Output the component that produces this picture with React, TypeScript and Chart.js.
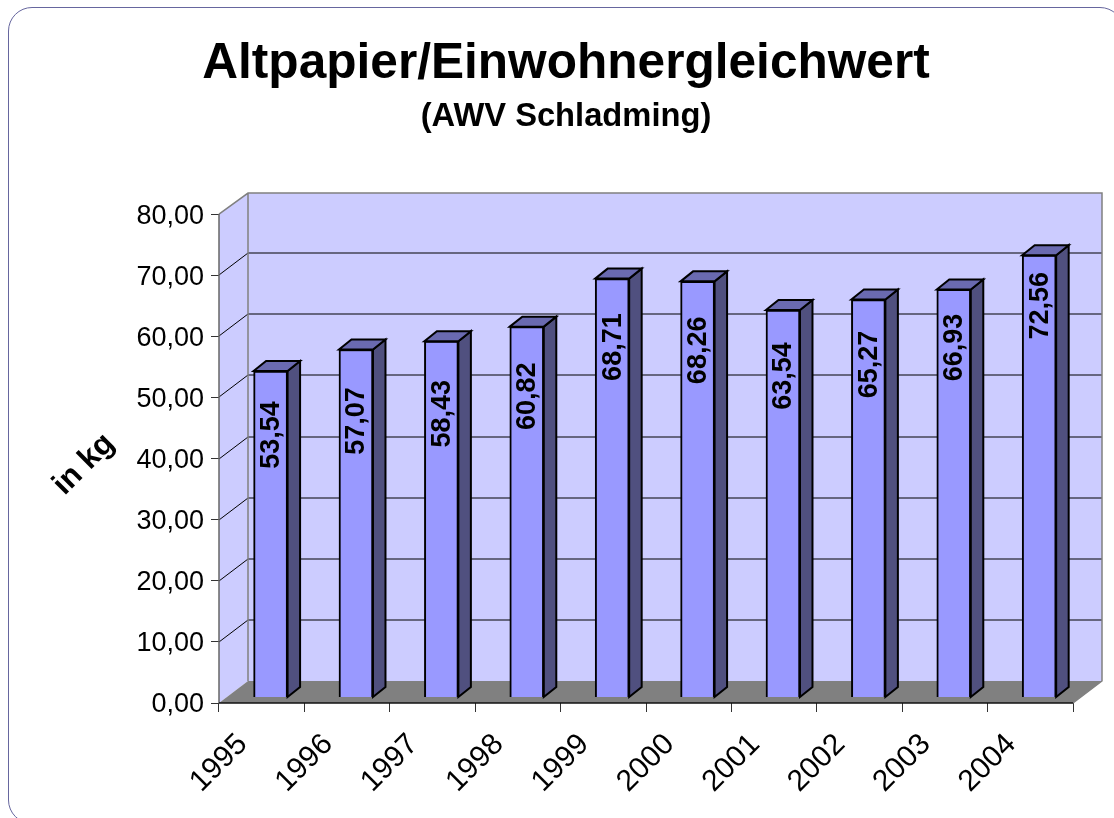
import React, { useEffect, useRef } from "react";
import { Chart, registerables } from "chart.js";

Chart.register(...registerables);

const years = ["1995", "1996", "1997", "1998", "1999", "2000", "2001", "2002", "2003", "2004"];
const values = [53.54, 57.07, 58.43, 60.82, 68.71, 68.26, 63.54, 65.27, 66.93, 72.56];
const titleText = "Altpapier/Einwohnergleichwert";
const subtitleText = "(AWV Schladming)";
const yAxisLabel = "in kg";

// how far each value label sits below the top of its bar
const labelDrop = [64, 71.5, 72.5, 69.5, 68.5, 69, 66, 65, 58, 50.5];

const FONT = "'Liberation Sans', Arial, sans-serif";
const fmt = (v: number) => v.toFixed(2).replace(".", ",");

const DEPTH_X = 29;
const DEPTH_Y = 22;
const BAR_DX = 12.5;
const BAR_DY = 10;

const wallPlugin = {
  id: "wall3d",
  beforeDatasetsDraw(chart: any) {
    const { ctx, chartArea: a, scales } = chart;
    const y = scales.y;
    const l = a.left, r = a.right, b = a.bottom, t = a.top;
    ctx.save();
    ctx.fillStyle = "#CCCCFF";
    ctx.fillRect(l + DEPTH_X, t - DEPTH_Y + 1, r - l, b - t);
    ctx.beginPath();
    ctx.moveTo(l, t); ctx.lineTo(l + DEPTH_X, t - DEPTH_Y + 1);
    ctx.lineTo(l + DEPTH_X, b - DEPTH_Y); ctx.lineTo(l, b);
    ctx.closePath(); ctx.fill();
    ctx.fillStyle = "#808080";
    ctx.beginPath();
    ctx.moveTo(l, b); ctx.lineTo(l + DEPTH_X, b - DEPTH_Y);
    ctx.lineTo(r + DEPTH_X, b - DEPTH_Y); ctx.lineTo(r, b);
    ctx.closePath(); ctx.fill();
    ctx.strokeStyle = "#000";
    ctx.lineWidth = 1;
    y.ticks.forEach((tk: any) => {
      if (tk.value === 0 || tk.value === 80) return;
      const py = Math.round(y.getPixelForValue(tk.value));
      ctx.beginPath();
      ctx.moveTo(l, py);
      ctx.lineTo(l + DEPTH_X, py - DEPTH_Y);
      ctx.lineTo(r + DEPTH_X, py - DEPTH_Y);
      ctx.stroke();
    });
    ctx.strokeStyle = "#808080";
    ctx.lineWidth = 1.5;
    ctx.beginPath();
    ctx.moveTo(l, t); ctx.lineTo(l + DEPTH_X, t - DEPTH_Y + 1);
    ctx.lineTo(r + DEPTH_X, t - DEPTH_Y + 1); ctx.lineTo(r + DEPTH_X, b - DEPTH_Y);
    ctx.lineTo(r, b);
    ctx.moveTo(l + DEPTH_X, t - DEPTH_Y + 1); ctx.lineTo(l + DEPTH_X, b - DEPTH_Y);
    ctx.stroke();
    ctx.restore();
  },
  afterDatasetsDraw(chart: any) {
    const { ctx, chartArea: a } = chart;
    const meta = chart.getDatasetMeta(0);
    ctx.save();
    ctx.lineJoin = "miter";
    ctx.lineWidth = 2;
    ctx.strokeStyle = "#000";
    meta.data.forEach((el: any, i: number) => {
      const w = el.width / 2;
      const x0 = el.x - w, x1 = el.x + w, top = el.y, base = el.base;
      ctx.fillStyle = "#50507F";
      ctx.beginPath();
      ctx.moveTo(x1, top); ctx.lineTo(x1 + BAR_DX, top - BAR_DY);
      ctx.lineTo(x1 + BAR_DX, base - BAR_DY); ctx.lineTo(x1, base);
      ctx.closePath(); ctx.fill(); ctx.stroke();
      ctx.fillStyle = "#6A6AB0";
      ctx.beginPath();
      ctx.moveTo(x0, top); ctx.lineTo(x0 + BAR_DX, top - BAR_DY);
      ctx.lineTo(x1 + BAR_DX, top - BAR_DY); ctx.lineTo(x1, top);
      ctx.closePath(); ctx.fill(); ctx.stroke();
      ctx.save();
      ctx.translate(el.x + 1, top + labelDrop[i]);
      ctx.rotate(-Math.PI / 2);
      ctx.fillStyle = "#000";
      ctx.font = `bold 27px ${FONT}`;
      ctx.textAlign = "center";
      ctx.textBaseline = "middle";
      ctx.fillText(fmt(values[i]), 0, 0);
      ctx.restore();
    });
    ctx.strokeStyle = "#666";
    ctx.lineWidth = 1.5;
    ctx.beginPath();
    ctx.moveTo(a.left, a.top); ctx.lineTo(a.left, a.bottom);
    ctx.stroke();
    ctx.strokeStyle = "#111";
    ctx.beginPath();
    ctx.moveTo(a.left, a.bottom); ctx.lineTo(a.right, a.bottom);
    ctx.stroke();
    ctx.save();
    ctx.translate(84, 464.5);
    ctx.rotate(-Math.PI / 4);
    ctx.fillStyle = "#000";
    ctx.font = `bold 31px ${FONT}`;
    ctx.textAlign = "center";
    ctx.textBaseline = "middle";
    ctx.fillText(yAxisLabel, 0, 0);
    ctx.restore();
    ctx.restore();
  },
};

export default function App() {
  const ref = useRef<HTMLCanvasElement>(null);
  useEffect(() => {
    const chart = new Chart(ref.current as HTMLCanvasElement, {
      type: "bar",
      data: {
        labels: years,
        datasets: [
          {
            label: "Altpapier",
            data: values.map((v, i) => ({ x: i, y: v })),
            xAxisID: "xBars",
            yAxisID: "yBars",
            backgroundColor: "#9999FF",
            borderColor: "#000",
            borderWidth: 2,
            barThickness: 34,
          },
        ],
      },
      options: {
        responsive: false,
        animation: false,
        events: [],
        layout: { padding: { left: 59, right: 41, top: 0, bottom: 0 } },
        plugins: {
          legend: { display: false },
          tooltip: { enabled: false },
          title: {
            display: true,
            text: titleText,
            color: "#000",
            font: { family: FONT, size: 49.6, weight: "bold" },
            padding: { top: 35, bottom: 2.5 },
          },
          subtitle: {
            display: true,
            text: subtitleText,
            color: "#000",
            font: { family: FONT, size: 32.7, weight: "bold" },
            padding: { top: 0, bottom: 77.8 },
          },
        },
        scales: {
          x: {
            type: "category",
            position: "bottom",
            grid: { display: true, drawOnChartArea: false, drawTicks: true, tickLength: 9, color: "#333", offset: true },
            border: { display: false },
            ticks: {
              color: "#000",
              font: { family: FONT, size: 30 },
              maxRotation: 45,
              minRotation: 45,
              padding: 15,
              labelOffset: -19,
              autoSkip: false,
            },
            afterFit: (s: any) => { s.height = 115; },
          },
          y: {
            type: "linear",
            position: "left",
            min: 0,
            max: 80,
            grid: { display: true, drawOnChartArea: false, tickLength: 8, color: "#333" },
            border: { display: false },
            ticks: {
              stepSize: 10,
              color: "#000",
              font: { family: FONT, size: 27 },
              padding: 7,
              labelOffset: 2,
              callback: (v: any) => fmt(Number(v)),
            },
            afterFit: (s: any) => { s.width = 160; },
          },
          xBars: { type: "linear", display: false, min: -0.604, max: 9.396, offset: false },
          yBars: { type: "linear", display: false, min: -0.985, max: 79.31 },
        },
      } as any,
      plugins: [wallPlugin],
    });
    return () => chart.destroy();
  }, []);
  return (
    <div style={{ position: "fixed", left: 0, top: 0, width: 1114, height: 818, overflow: "hidden", background: "#fff" }}>
      <div
        style={{
          position: "absolute", left: 8, top: 7, width: 1116, height: 817,
          border: "1.5px solid #66669E", borderRadius: 24, boxSizing: "border-box",
        }}
      />
      <canvas ref={ref} width={1114} height={818} style={{ position: "absolute", left: 0, top: 0, display: "block" }} />
    </div>
  );
}
